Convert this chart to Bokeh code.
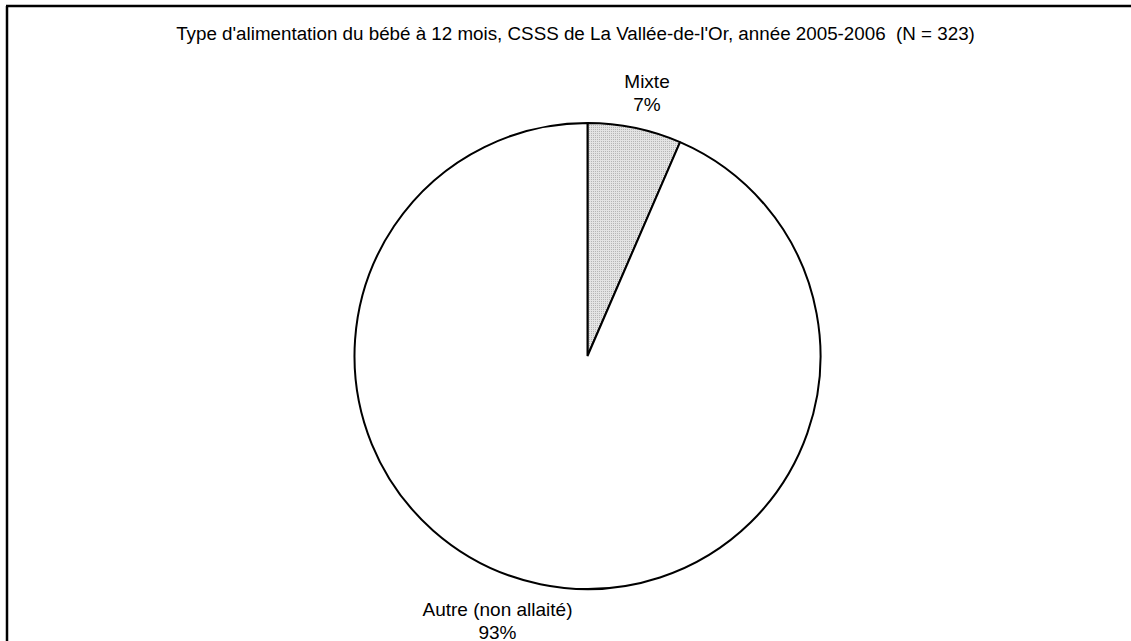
import math
from bokeh.plotting import figure
from bokeh.models import Range1d
from bokeh.core.properties import value
from bokeh.embed import file_html
from bokeh.resources import INLINE

# Data
categories = ["Mixte", "Autre (non allaité)"]
counts = [21, 302]
pct_labels = ["7%", "93%"]
title_text = "Type d'alimentation du bébé à 12 mois, CSSS de La Vallée-de-l'Or, année 2005-2006\u00a0\u00a0(N = 323)"

W, H = 1131, 641
TEXT_SHIFT = 6.5  # compensation for svg text baseline placement

def X(ix):
    return ix

def Y(iy):
    return H - iy

p = figure(width=W, height=H, output_backend="svg", toolbar_location=None,
           x_range=Range1d(0, W), y_range=Range1d(0, H), min_border=0)
p.axis.visible = False
p.grid.visible = False
p.outline_line_color = None
p.background_fill_color = "white"
p.border_fill_color = "white"

# Chart border (top and left visible, rest cropped)
p.line(x=[X(6.5), X(6.5)], y=[Y(5.5), Y(700)], line_color="black", line_width=2.5)
p.line(x=[X(5.5), X(1200)], y=[Y(5.5), Y(5.5)], line_color="black", line_width=2.5)

total = sum(counts)
cx, cy, r = X(587), Y(355.5), 233
fills = ["#e4e4e4", "white"]
cum = 0
for i, c in enumerate(counts):
    a0 = math.pi / 2 - 2 * math.pi * cum / total
    cum += c
    a1 = math.pi / 2 - 2 * math.pi * cum / total
    kw = {}
    if i == 0:
        kw = dict(hatch_pattern="dot", hatch_color="#a8a8a8", hatch_scale=2, hatch_weight=1)
    p.wedge(x=cx, y=cy, radius=r, radius_units="screen", start_angle=a0, end_angle=a1,
            direction="clock", fill_color=fills[i], line_color="black", line_width=2, **kw)

font = value("Liberation Sans")
p.text(x=[X(575)], y=[Y(39 - TEXT_SHIFT)], text=[title_text], text_font=font, text_font_size="18.8px",
       text_align="center", text_baseline="alphabetic", text_color="black")

label_pos = [(646.5, 87.5), (497, 615.5)]
for (lx, ly), cat, pl in zip(label_pos, categories, pct_labels):
    p.text(x=[X(lx)], y=[Y(ly - TEXT_SHIFT)], text=[cat], text_font=font, text_font_size="19px",
           text_align="center", text_baseline="alphabetic", text_color="black")
    p.text(x=[X(lx)], y=[Y(ly + 23 - TEXT_SHIFT)], text=[pl], text_font=font, text_font_size="19px",
           text_align="center", text_baseline="alphabetic", text_color="black")

open("out.html", "w").write(file_html(p, INLINE))
